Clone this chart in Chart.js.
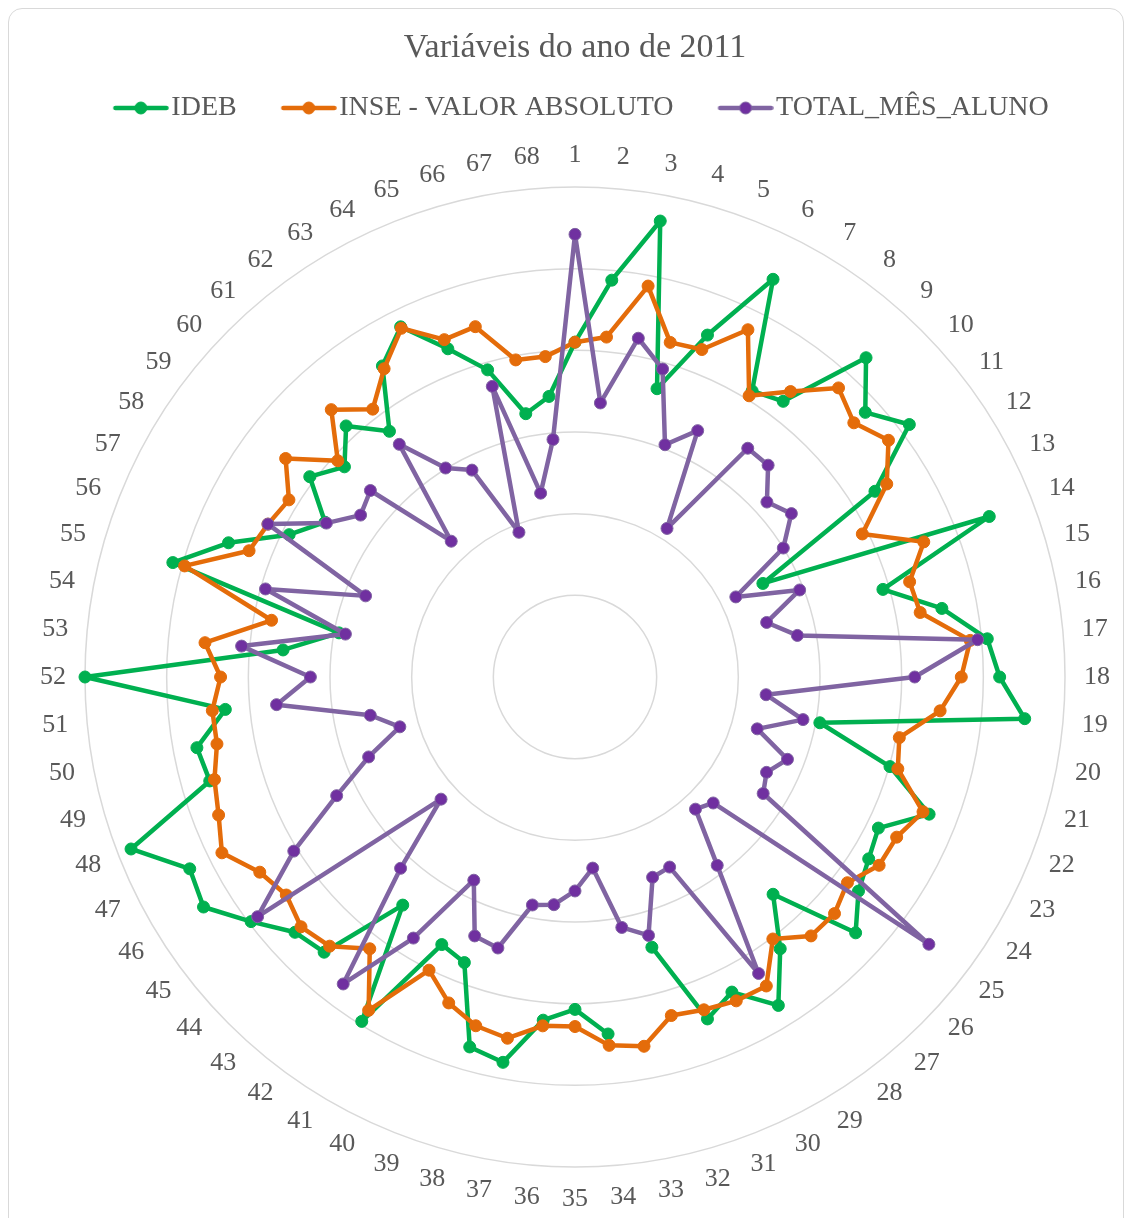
<!DOCTYPE html>
<html>
<head>
<meta charset="utf-8">
<title>Variáveis do ano de 2011</title>
<script src="https://cdn.jsdelivr.net/npm/chart.js@4.4.1/dist/chart.umd.min.js"></script>
<style>
  html, body { margin: 0; padding: 0; background: #fff; overflow: hidden; }
  #frame {
    position: absolute; left: 8px; top: 8px; width: 1114px; height: 1260px;
    border: 1.5px solid #d9d9d9; border-radius: 14px;
  }
  #radar { position: absolute; left: 0; top: 0; }
</style>
</head>
<body>
<div id="frame"></div>
<canvas id="radar" width="1132" height="1223"></canvas>
<script>
// categories (schools 1..68)
var categories = ["1","2","3","4","5","6","7","8","9","10",
  "11","12","13","14","15","16","17","18","19","20",
  "21","22","23","24","25","26","27","28","29","30",
  "31","32","33","34","35","36","37","38","39","40",
  "41","42","43","44","45","46","47","48","49","50",
  "51","52","53","54","55","56","57","58","59","60",
  "61","62","63","64","65","66","67","68"];

// values (scale 0..6)
var ideb = [4.10,4.88,5.68,3.67,4.49,5.44,4.12,4.23,5.29,4.81,
  5.13,4.32,2.57,5.44,3.92,4.57,5.07,5.20,5.53,3.05,
  4.01,4.65,4.15,4.23,4.35,4.65,3.60,4.17,4.73,4.31,
  4.49,3.44,null,4.39,4.07,4.22,4.80,4.71,3.75,3.66,
  4.96,3.50,4.56,4.64,4.97,5.35,5.27,5.83,4.65,4.71,
  4.30,6.00,3.59,2.94,5.12,4.55,3.91,3.60,4.07,3.82,
  4.16,3.77,4.48,4.79,4.31,3.91,3.28,3.45];

var inse = [4.10,4.18,4.87,4.26,4.30,4.75,4.05,4.38,4.79,4.62,
  4.81,4.49,3.93,4.58,4.26,4.30,4.86,4.73,4.49,4.04,
  4.11,4.57,4.40,4.38,4.18,4.30,4.29,4.02,4.45,4.43,
  4.37,4.31,4.60,4.53,4.28,4.29,4.50,4.44,4.28,4.01,
  4.80,4.17,4.46,4.54,4.43,4.54,4.83,4.68,4.59,4.46,
  4.46,4.34,4.55,3.78,4.97,4.28,4.20,4.12,4.44,3.93,
  4.43,4.11,4.44,4.77,4.43,4.46,3.95,3.94];

var totalMes = [5.42,3.37,4.22,3.92,3.05,3.37,2.14,3.51,3.51,3.18,
  3.32,3.00,2.20,2.95,2.44,2.77,4.95,4.16,2.35,2.84,
  2.32,2.79,2.62,2.71,5.43,2.29,2.19,2.89,4.27,2.60,
  2.63,3.29,3.12,2.35,2.62,2.80,2.84,3.45,3.40,2.78,
  3.76,4.71,3.17,2.22,4.87,4.05,3.26,2.71,2.23,2.55,
  3.67,3.24,4.10,2.86,3.94,2.75,4.20,3.58,3.29,3.39,
  2.25,3.57,3.01,2.83,1.90,3.70,2.29,2.92];

var textColor = "#595959";
var serif = "'Liberation Serif', 'Times New Roman', serif";

// legend swatch: a short line with a dot, shifted right inside its box
function swatch(line, dot, ring) {
  var c = document.createElement("canvas");
  c.width = 86; c.height = 14;
  var g = c.getContext("2d");
  g.strokeStyle = line;
  g.lineWidth = 4.5;
  g.lineCap = "round";
  g.beginPath();
  g.moveTo(32.5, 7);
  g.lineTo(83.5, 7);
  g.stroke();
  g.beginPath();
  g.arc(58, 7, 6, 0, Math.PI * 2);
  g.fillStyle = dot;
  g.fill();
  g.lineWidth = 1;
  g.strokeStyle = ring;
  g.stroke();
  return c;
}

var swatches = [
  swatch("#00B050", "#00B050", "#00B050"),
  swatch("#E46C0A", "#E46C0A", "#E46C0A"),
  swatch("#8064A2", "#7030A0", "#8064A2")
];

// category labels centred on a circle just outside the outer ring
var centredLabels = {
  id: "centredLabels",
  afterDraw: function (chart) {
    var r = chart.scales.r;
    var ctx = chart.ctx;
    ctx.save();
    ctx.font = "26px " + serif;
    ctx.fillStyle = textColor;
    ctx.textAlign = "center";
    ctx.textBaseline = "middle";
    categories.forEach(function (lab, i) {
      var p = r.getPointPosition(i, r.drawingArea + 32);
      ctx.fillText(lab, p.x, p.y);
    });
    ctx.restore();
  }
};

function series(label, values, order, line, dot) {
  return {
    label: label,
    data: values,
    order: order,
    borderColor: line,
    backgroundColor: dot,
    pointBackgroundColor: dot,
    pointBorderColor: line,
    borderWidth: 4.5,
    borderJoinStyle: "round",
    borderCapStyle: "round",
    pointRadius: 6,
    pointHoverRadius: 6,
    pointBorderWidth: 1,
    fill: false,
    spanGaps: false
  };
}

new Chart(document.getElementById("radar"), {
  type: "radar",
  data: {
    labels: categories,
    datasets: [
      series("IDEB", ideb, 3, "#00B050", "#00B050"),
      series("INSE - VALOR ABSOLUTO", inse, 2, "#E46C0A", "#E46C0A"),
      series("TOTAL_MÊS_ALUNO", totalMes, 1, "#8064A2", "#7030A0")
    ]
  },
  options: {
    responsive: false,
    animation: false,
    layout: { padding: { left: 18, top: 10, right: 0, bottom: 0 } },
    scales: {
      r: {
        min: 0,
        max: 6,
        ticks: { stepSize: 1, display: false },
        grid: { circular: true, color: "#d9d9d9", lineWidth: 1.5 },
        angleLines: { display: false },
        // kept for the layout fit only, the visible labels come from the plugin
        pointLabels: {
          color: "rgba(0,0,0,0)",
          padding: 15,
          font: { family: serif, size: 25, lineHeight: 1.6 }
        }
      }
    },
    plugins: {
      title: {
        display: true,
        text: "Variáveis do ano de 2011",
        color: textColor,
        font: { family: serif, size: 34, weight: "normal" },
        padding: { top: 17.6, bottom: 0 }
      },
      legend: {
        display: true,
        position: "top",
        reverse: true,
        labels: {
          color: textColor,
          font: { family: serif, size: 28 },
          usePointStyle: true,
          pointStyleWidth: 63,
          padding: 25.6,
          generateLabels: function (chart) {
            var items = Chart.defaults.plugins.legend.labels.generateLabels(chart);
            items.forEach(function (it) {
              it.pointStyle = swatches[it.datasetIndex];
              // a trailing space nudges the centred row slightly left
              if (it.datasetIndex === 2) { it.text = it.text + " "; }
            });
            return items;
          }
        }
      },
      tooltip: { enabled: false }
    }
  },
  plugins: [centredLabels]
});
</script>
</body>
</html>
